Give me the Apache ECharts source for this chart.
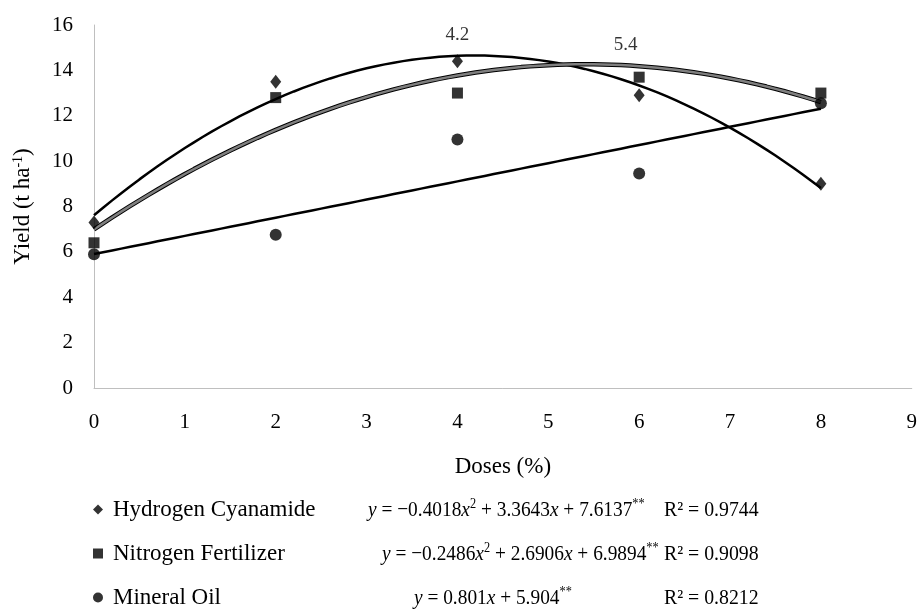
<!DOCTYPE html>
<html>
<head>
<meta charset="utf-8">
<script src="https://cdn.jsdelivr.net/npm/echarts@6/dist/echarts.min.js"></script>
<style>html,body{margin:0;padding:0;background:#fff}#c{width:920px;height:612px}</style>
</head>
<body>
<div id="c"></div>
<script>
// ---- data ----
const doses = [0, 2, 4, 6, 8];
const hydrogenCyanamide = [7.3, 13.5, 14.4, 12.9, 9.0];
const nitrogenFertilizer = [6.4, 12.8, 13.0, 13.7, 13.0];
const mineralOil = [5.9, 6.75, 10.95, 9.45, 12.55];
const seriesNames = ['Hydrogen Cyanamide', 'Nitrogen Fertilizer', 'Mineral Oil'];
// regression coefficients [a (x^2), b (x), c]
const hcCoef = [-0.4018, 3.3643, 7.6137];
const nfCoef = [-0.2486, 2.6906, 6.9894];
const moCoef = [0, 0.801, 5.904];
const r2Values = ['0.9744', '0.9098', '0.8212'];
const vertexLabels = ['4.2', '5.4'];
const vertexAnchorX = [4.0, 5.85];
const vertexAnchorY = [15.55, 15.1];
const xTicks = [0, 1, 2, 3, 4, 5, 6, 7, 8, 9];
const yTicks = [0, 2, 4, 6, 8, 10, 12, 14, 16];

// ---- build ----
const FONT = "'Liberation Serif', 'Times New Roman', Times, serif";
const TXT = '#000';
function pairs(ys) { return doses.map((x, i) => [x, ys[i]]); }
function trend(coef) {
  const out = [];
  for (let k = 0; k <= 80; k++) {
    const x = k / 10;
    out.push([x, coef[0] * x * x + coef[1] * x + coef[2]]);
  }
  return out;
}
function eqText(coef) {
  let s = '{i|y} = ';
  const parts = [];
  if (coef[0] !== 0) parts.push((coef[0] < 0 ? '\u2212' : '') + Math.abs(coef[0]) + '{i|x}{sup|2}');
  parts.push((parts.length === 0 && coef[1] < 0 ? '\u2212' : '') + Math.abs(coef[1]) + '{i|x}');
  parts.push(String(coef[2]) + '{sup|**}');
  return s + parts.join(' + ');
}
const EQ_FS = 22;
const richEq = {
  i: { fontFamily: FONT, fontSize: EQ_FS, lineHeight: 26, fontStyle: 'italic', color: TXT },
  sup: { fontFamily: FONT, fontSize: 14, lineHeight: 14, verticalAlign: 'top', color: TXT }
};
const rowY = [510, 554, 598];
const eqX = [368, 382, 414];
const r2X = 664;
const coefs = [hcCoef, nfCoef, moCoef];
const graphics = [];
coefs.forEach((c, i) => {
  graphics.push({
    type: 'text', x: eqX[i], y: rowY[i], scaleX: 0.88,
    style: { text: eqText(c), rich: richEq, fontFamily: FONT, fontSize: EQ_FS, fill: TXT, verticalAlign: 'middle', align: 'left' }
  });
  graphics.push({
    type: 'text', x: r2X, y: rowY[i], scaleX: 0.9,
    style: { text: 'R\u00B2 = ' + r2Values[i], fontFamily: FONT, fontSize: EQ_FS, fill: TXT, verticalAlign: 'middle', align: 'left' }
  });
});

const chart = echarts.init(document.getElementById('c'), null, { renderer: 'canvas' });
chart.setOption({
  animation: false,
  backgroundColor: '#fff',
  textStyle: { fontFamily: FONT },
  grid: { left: 94, right: 5, top: 25, bottom: 224, containLabel: false },
  xAxis: {
    type: 'value', min: xTicks[0], max: xTicks[xTicks.length - 1], interval: 1,
    name: 'Doses (%)', nameLocation: 'middle', nameGap: 67,
    nameTextStyle: { fontFamily: FONT, fontSize: 23, color: TXT },
    axisLine: { show: true, lineStyle: { color: '#bfbfbf', width: 1 } },
    axisTick: { show: false }, splitLine: { show: false },
    axisLabel: { fontFamily: FONT, fontSize: 21, color: TXT, margin: 24 }
  },
  yAxis: {
    type: 'value', min: yTicks[0], max: yTicks[yTicks.length - 1], interval: 2,
    name: 'Yield (t ha{sup|-1})', nameLocation: 'middle', nameGap: 60, nameRotate: 90,
    nameTextStyle: {
      fontFamily: FONT, fontSize: 23, color: TXT,
      rich: { sup: { fontFamily: FONT, fontSize: 14, lineHeight: 14, verticalAlign: 'top', color: TXT } }
    },
    axisLine: { show: true, lineStyle: { color: '#bfbfbf', width: 1 } },
    axisTick: { show: false }, splitLine: { show: false },
    axisLabel: { fontFamily: FONT, fontSize: 21, color: TXT, margin: 21 }
  },
  legend: {
    data: seriesNames, orient: 'vertical', left: 93, top: 498, itemGap: 21, padding: 0,
    itemWidth: 10, itemHeight: 10, selectedMode: false,
    textStyle: { fontFamily: FONT, fontSize: 23, color: TXT, padding: [0, 0, 0, 5] }
  },
  graphic: graphics,
  series: [
    { name: 'HC trend', type: 'line', data: trend(hcCoef), showSymbol: false, symbol: 'none', z: 2,
      lineStyle: { color: '#000', width: 2.5 } },
    { name: 'NF trend border', type: 'line', data: trend(nfCoef), showSymbol: false, symbol: 'none', z: 2,
      lineStyle: { color: '#000', width: 4.5 } },
    { name: 'NF trend', type: 'line', data: trend(nfCoef), showSymbol: false, symbol: 'none', z: 3,
      lineStyle: { color: '#7f7f7f', width: 2.5 } },
    { name: 'MO trend', type: 'line', data: trend(moCoef), showSymbol: false, symbol: 'none', z: 2,
      lineStyle: { color: '#000', width: 2.5 } },
    { name: seriesNames[0], type: 'scatter', data: pairs(hydrogenCyanamide), symbol: 'diamond', symbolSize: [11, 14], z: 5,
      itemStyle: { color: '#000' } },
    { name: seriesNames[1], type: 'scatter', data: pairs(nitrogenFertilizer), symbol: 'rect', symbolSize: 11, z: 5,
      itemStyle: { color: '#000' } },
    { name: seriesNames[2], type: 'scatter', data: pairs(mineralOil), symbol: 'circle', symbolSize: 12, z: 5,
      itemStyle: { color: '#000' } },
    { name: 'vertex', type: 'scatter', symbolSize: 1, z: 6,
      data: vertexLabels.map((t, i) => [vertexAnchorX[i], vertexAnchorY[i], t]),
      itemStyle: { color: 'rgba(0,0,0,0)' },
      label: { show: true, position: 'inside', formatter: p => p.data[2], fontFamily: FONT, fontSize: 19, color: TXT } }
  ]
});
</script>
</body>
</html>
